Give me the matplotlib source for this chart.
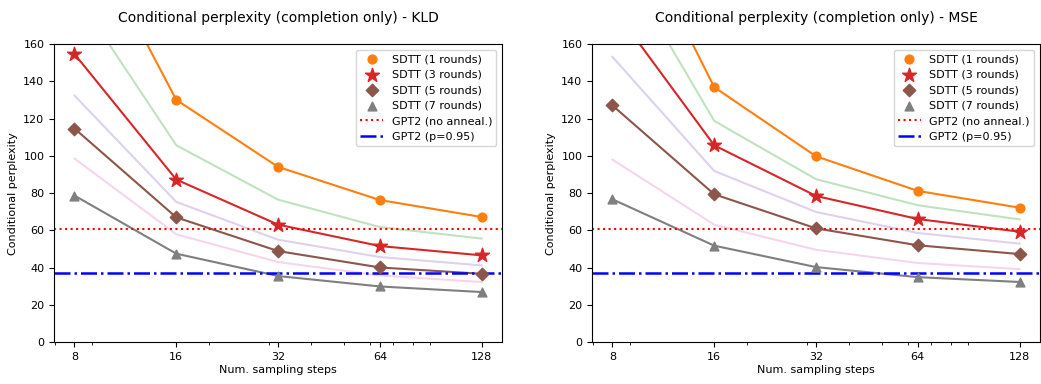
import matplotlib
matplotlib.use("Agg")
import matplotlib.pyplot as plt
from matplotlib.ticker import NullFormatter

steps = [8, 16, 32, 64, 128]
step_labels = ["8", "16", "32", "64", "128"]

# KLD panel
kld_r1 = [234, 130.1, 94.1, 76.3, 67.2]
kld_r2 = [188, 105.7, 76.5, 61.8, 55.6]
kld_r3 = [154.7, 87.3, 63.1, 51.6, 46.6]
kld_r4 = [132.4, 75.3, 55.0, 45.7, 41.2]
kld_r5 = [114.7, 67.0, 48.9, 40.1, 36.7]
kld_r6 = [98.6, 57.9, 43.0, 35.8, 32.3]
kld_r7 = [78.7, 47.5, 35.5, 29.9, 26.9]

# MSE panel
mse_r1 = [246, 136.9, 99.8, 81.2, 72.2]
mse_r2 = [212, 118.8, 87.5, 73.5, 65.9]
mse_r3 = [180, 105.7, 78.5, 66.1, 59.3]
mse_r4 = [153.2, 91.9, 69.9, 58.6, 52.9]
mse_r5 = [127.1, 79.4, 61.1, 52.0, 47.3]
mse_r6 = [98.0, 63.1, 49.6, 42.5, 39.2]
mse_r7 = [76.7, 51.8, 40.3, 34.9, 32.3]

gpt2_no_anneal = 60.6
gpt2_p095 = 37.3

titles = ["Conditional perplexity (completion only) - KLD",
          "Conditional perplexity (completion only) - MSE"]

fig, axes = plt.subplots(1, 2, figsize=(10.41, 3.84), dpi=100)
fig.subplots_adjust(left=0.052, right=0.999, top=0.885, bottom=0.109, wspace=0.201)

panels = [
    [kld_r1, kld_r2, kld_r3, kld_r4, kld_r5, kld_r6, kld_r7],
    [mse_r1, mse_r2, mse_r3, mse_r4, mse_r5, mse_r6, mse_r7],
]

main_styles = {1: ("tab:orange", "o", 40), 3: ("tab:red", "*", 110),
               5: ("tab:brown", "D", 40), 7: ("tab:gray", "^", 40)}
faint_colors = {2: "tab:green", 4: "tab:purple", 6: "tab:pink"}

for ax, series, title in zip(axes, panels, titles):
    for i, ys in enumerate(series, start=1):
        if i in faint_colors:
            ax.plot(steps, ys, color=faint_colors[i], alpha=0.3, lw=1.5, zorder=1)
    for i, ys in enumerate(series, start=1):
        if i in main_styles:
            c, m, s = main_styles[i]
            ax.plot(steps, ys, color=c, lw=1.5, zorder=2)
            ax.scatter(steps, ys, color=c, marker=m, s=s, zorder=3,
                       label=f"SDTT ({i} rounds)")
    ax.axhline(gpt2_no_anneal, color="red", ls=":", lw=1.5, label="GPT2 (no anneal.)")
    ax.axhline(gpt2_p095, color="blue", ls="-.", lw=1.8, label="GPT2 (p=0.95)")
    ax.set_xscale("log")
    ax.set_xticks(steps)
    ax.set_xticklabels(step_labels)
    ax.xaxis.set_minor_formatter(NullFormatter())
    ax.set_ylim(0, 160)
    ax.tick_params(labelsize=8)
    ax.set_xlabel("Num. sampling steps", fontsize=8, labelpad=2)
    ax.set_ylabel("Conditional perplexity", fontsize=8)
    ax.set_title(title, fontsize=10, pad=16)
    ax.legend(loc="upper right", fontsize=8)

fig.savefig("out.png", dpi=100)
